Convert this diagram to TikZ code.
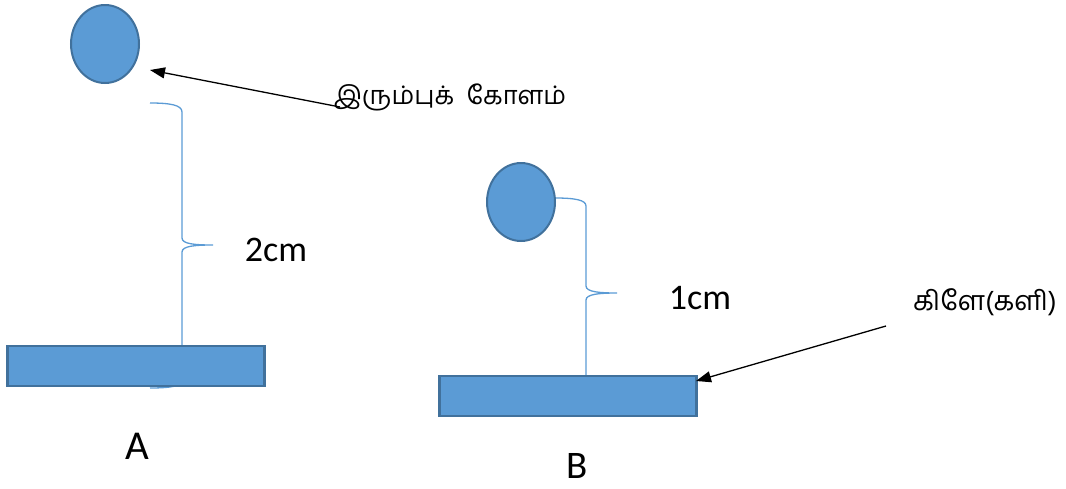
\documentclass[tikz,border=0pt]{standalone}
\usepackage{fontspec}
\setmainfont{Carlito}
\newfontfamily\tamilfont[Script=Tamil]{Hind Madurai}
\usetikzlibrary{shapes.geometric,arrows.meta}
\definecolor{fillblue}{HTML}{5B9BD5}
\definecolor{edgeblue}{HTML}{41719C}
\tikzset{
  ball/.style={ellipse,fill=fillblue,draw=edgeblue,line width=2pt,minimum width=68pt,minimum height=78pt,inner sep=0pt},
  slab/.style={rectangle,fill=fillblue,draw=edgeblue,line width=2.5pt,minimum width=257pt,minimum height=40pt,inner sep=0pt},
  bracep/.style={draw=fillblue,line width=1.3pt},
  pointer/.style={draw=black,line width=1.3pt,-{Triangle[length=15pt,width=11pt]}},
  lbl/.style={inner sep=0pt,anchor=center},
}
\begin{document}
\begin{tikzpicture}[x=1pt,y=-1pt]
\useasboundingbox (0,0) rectangle (1066,488);
% braces (drawn first, slabs cover them)
\draw[bracep] (150,103) .. controls (170,103) and (182,105) .. (182,112) -- (182,238) .. controls (182,244) and (195,245) .. (213,245) .. controls (195,245) and (182,246) .. (182,252) -- (182,381) .. controls (182,386) and (170,388) .. (150,388);
\draw[bracep] (555,198) .. controls (575,198) and (586,200) .. (586,206) -- (586,286) .. controls (586,292) and (600,293) .. (617,293) .. controls (600,293) and (586,294) .. (586,300) -- (586,376);
% shapes
\node[ball] (ballA) at (105,44) {};
\node[ball] (ballB) at (521,202) {};
\node[slab] (slabA) at (136,366) {};
\node[slab] (slabB) at (568,396) {};
% labels
\node[lbl] (iron) at (450,97) {\tamilfont\fontsize{25.5}{30}\selectfont இரும்புக்\ \ கோளம்};
\node[lbl] (clay) at (985,302) {\tamilfont\fontsize{27}{30}\selectfont கிளே(களி)};
\node[lbl] (twocm) at (276,250) {\fontsize{36}{40}\selectfont 2cm};
\node[lbl] (onecm) at (700,298) {\fontsize{36}{40}\selectfont 1cm};
\node[lbl] (labA) at (137,446) {\fontsize{41}{46}\selectfont A};
\node[lbl] (labB) at (577,466) {\fontsize{39}{44}\selectfont B};
% arrows
\coordinate (ironTail) at (340,107);
\coordinate (ironTip) at (150,70);
\coordinate (clayTail) at (886,326);
\coordinate (clayTip) at (696,381);
\draw[pointer] (ironTail) -- (ironTip);
\draw[pointer] (clayTail) -- (clayTip);
\end{tikzpicture}
\end{document}
